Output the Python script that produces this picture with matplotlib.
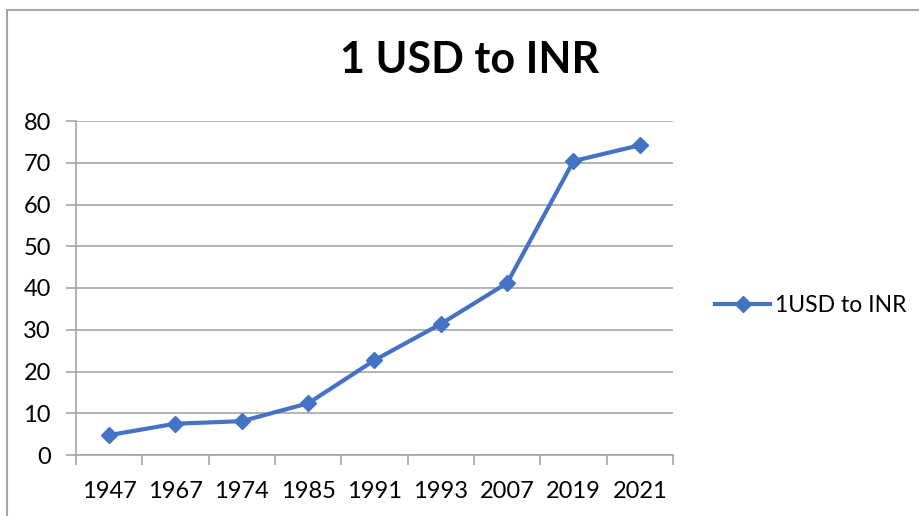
import matplotlib
matplotlib.use("Agg")
import matplotlib.pyplot as plt
from matplotlib.patches import Rectangle
import numpy as np

years = ["1947", "1967", "1974", "1985", "1991", "1993", "2007", "2019", "2021"]
usd_inr = [4.76, 7.5, 8.1, 12.38, 22.7, 31.4, 41.2, 70.4, 74.2]
series_name = "1USD to INR"
title = "1 USD to INR"

plt.rcParams['font.family'] = ['Lato', 'DejaVu Sans']

fig = plt.figure(figsize=(9.2, 5.16), dpi=100)
ax = fig.add_axes([76/920, 1-455/516, (673-76)/920, (455-121)/516])

# outer chart border (cropped at right/bottom)
fig.patches.append(Rectangle((7/920, -0.1), 1.2, 1-10/516+0.1, transform=fig.transFigure,
                             fill=False, edgecolor='#A6A6A6', linewidth=1.5))

x = np.arange(len(years))
line, = ax.plot(x, usd_inr, color='#4472C4', linewidth=3, marker='D', markersize=8,
                label=series_name, zorder=3)

ax.set_xlim(-0.5, len(years) - 0.5)
ax.set_ylim(0, 80)
ax.set_yticks(np.arange(0, 81, 10))
ax.yaxis.grid(True, color='#A6A6A6', linewidth=1.2)
ax.set_axisbelow(True)

ax.set_xticks(x)
ax.set_xticklabels(years)
ax.set_xticks(np.arange(-0.5, len(years), 1), minor=True)
ax.tick_params(axis='x', which='major', length=0, labelsize=17, pad=19, colors='black')
ax.tick_params(axis='x', which='minor', length=7, width=1.2, color='#A6A6A6', direction='out')
ax.tick_params(axis='y', length=7, width=1.2, color='#A6A6A6', labelsize=17, pad=11)

for s in ['top', 'right']:
    ax.spines[s].set_visible(False)
for s in ['left', 'bottom']:
    ax.spines[s].set_color('#A6A6A6')
    ax.spines[s].set_linewidth(1.2)

fig.text(470/920, 1-60/516, title, ha='center', va='center', fontsize=31, fontweight='bold')

fig.legend(handles=[line], labels=[series_name], loc='center left',
           bbox_to_anchor=(704/920, 1-306/516), frameon=False, fontsize=16.5,
           handlelength=2.4, handletextpad=0.2, borderpad=0)

fig.savefig("out.png", dpi=100)
